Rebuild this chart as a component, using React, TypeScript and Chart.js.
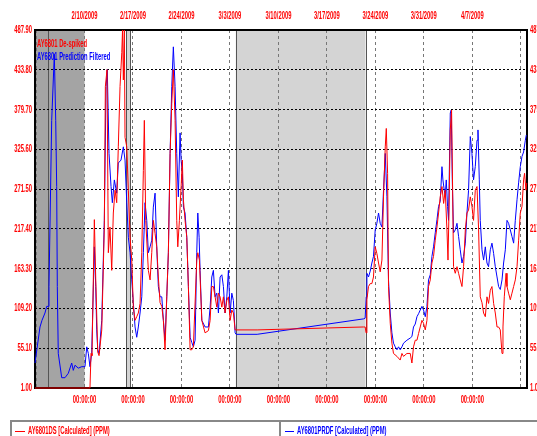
import React, { useEffect, useRef } from 'react';
import { Chart, registerables } from 'chart.js';

Chart.register(...registerables);

// ---- axis / label data ----
const yTicks = [1.0, 55.1, 109.2, 163.3, 217.4, 271.5, 325.6, 379.7, 433.8, 487.9];
const weekDays = [-7, 0, 7, 14, 21, 28, 35, 42, 49, 56, 63];
const dateLabels = ['', '2/10/2009', '2/17/2009', '2/24/2009', '3/3/2009', '3/10/2009', '3/17/2009', '3/24/2009', '3/31/2009', '4/7/2009', ''];
const timeLabels = ['', '00:00:00', '00:00:00', '00:00:00', '00:00:00', '00:00:00', '00:00:00', '00:00:00', '00:00:00', '00:00:00', ''];
const xMin = -7.15;
const xMax = 63.9;
const yMin = 1.0;
const yMax = 487.9;

// shaded periods (days from 2/10/2009)
const darkBands = [[-7.15, 0]];
const lightBands = [[6.0, 6.58], [21.85, 40.58]];
const markerLines = [-5.23, 6.0, 6.58, 21.85, 40.58];

const seriesNames = ['AY6801 De-spiked', 'AY6801 Prediction Filtered'];
const legendNames = ['AY6801DS [Calculated] (PPM)', 'AY6801PRDF [Calculated] (PPM)'];

// ---- series: [day offset from 2/10/2009, PPM] ----
const redSeries = [
  [-7.15, 1], [0.79, 1], [0.94, 48], [1.08, 45], [1.42, 230], [1.62, 150], [1.91, 50], [2.10, 45],
  [2.49, 80], [2.86, 220], [3.01, 411], [3.25, 434], [3.44, 185], [3.68, 220], [3.93, 161], [4.16, 239],
  [4.41, 270], [4.65, 253], [4.88, 329], [5.13, 411], [5.38, 457], [5.49, 487.9], [5.61, 420], [5.75, 487.9],
  [5.85, 342], [6.10, 329], [6.33, 270], [6.58, 206], [6.82, 175], [7.05, 111], [7.30, 93], [7.54, 98],
  [7.77, 103], [8.02, 116], [8.27, 185], [8.50, 297], [8.64, 365], [8.84, 229], [9.22, 161], [9.47, 148],
  [9.71, 185], [9.94, 229], [10.19, 211], [10.43, 193], [10.66, 152], [10.91, 117], [11.16, 112], [11.39, 93],
  [11.63, 53], [11.88, 125], [12.11, 185], [12.36, 320], [12.60, 388], [12.83, 434], [13.08, 365], [13.32, 229],
  [13.47, 193], [13.70, 229], [13.95, 275], [14.13, 311], [14.28, 257], [14.52, 229], [14.77, 206], [15.00, 139],
  [15.25, 53], [15.49, 53], [15.72, 57], [16.21, 175], [16.36, 185], [16.59, 175], [16.94, 93], [17.41, 76],
  [17.89, 79], [18.14, 93], [18.38, 139], [18.61, 139], [18.86, 125], [19.10, 111], [19.34, 130], [19.58, 125],
  [19.83, 111], [20.06, 125], [20.30, 103], [20.55, 120], [20.78, 125], [21.03, 93], [21.27, 107], [21.50, 103],
  [21.75, 80], [21.89, 80], [24.93, 80], [40.29, 84], [40.53, 84], [40.66, 76], [40.78, 121], [41.01, 139],
  [41.26, 143], [41.50, 143], [41.73, 152], [41.98, 193], [42.22, 184], [42.46, 171], [42.70, 159], [42.95, 175],
  [43.18, 261], [43.43, 329], [43.58, 354], [43.77, 293], [43.90, 139], [44.15, 89], [44.39, 62], [44.62, 48],
  [45.12, 44], [45.59, 39], [45.84, 48], [46.07, 44], [46.56, 48], [47.04, 48], [47.28, 35], [47.51, 57],
  [47.76, 66], [48.01, 66], [48.24, 75], [48.48, 84], [48.73, 93], [48.96, 89], [49.21, 80], [49.45, 93],
  [49.68, 139], [49.93, 148], [50.17, 171], [50.40, 180], [50.65, 202], [50.90, 220], [51.13, 239], [51.37, 261],
  [51.62, 275], [51.86, 252], [52.09, 270], [52.34, 216], [52.49, 175], [52.63, 239], [52.82, 352], [53.01, 379],
  [53.16, 270], [53.29, 166], [53.54, 157], [53.79, 166], [54.02, 157], [54.26, 148], [54.51, 139], [54.74, 166],
  [54.99, 216], [55.23, 239], [55.46, 243], [55.71, 261], [55.95, 248], [56.18, 229], [56.43, 270], [56.68, 275],
  [56.91, 216], [57.15, 125], [57.40, 117], [57.63, 103], [57.88, 98], [58.12, 125], [58.35, 116], [58.60, 134],
  [58.84, 139], [59.08, 116], [59.32, 103], [59.57, 84], [59.80, 84], [60.04, 80], [60.29, 48], [60.43, 84],
  [60.62, 125], [60.88, 157], [61.01, 139], [61.24, 130], [61.49, 121], [61.73, 130], [61.97, 139], [62.21, 148],
  [62.46, 166], [62.69, 202], [62.93, 239], [63.18, 248], [63.41, 284], [63.55, 293], [63.75, 270], [63.87, 280],
];

const blueSeries = [
  [-7.15, 35], [-6.43, 84], [-6.14, 93], [-5.71, 103], [-5.46, 112], [-5.23, 112], [-5.13, 139], [-4.74, 365],
  [-4.36, 455], [-4.16, 365], [-4.02, 275], [-3.93, 139], [-3.79, 48], [-3.29, 15], [-2.82, 15], [-2.34, 21],
  [-1.85, 35], [-1.62, 25], [-1.37, 32], [-0.90, 28], [-0.40, 30], [0.07, 30], [0.32, 57], [0.55, 48],
  [0.79, 30], [1.04, 48], [1.42, 193], [1.62, 139], [1.76, 80], [1.91, 53], [2.10, 48], [2.49, 93],
  [2.86, 229], [3.11, 411], [3.29, 434], [3.54, 320], [3.83, 275], [4.02, 253], [4.31, 284], [4.65, 266],
  [4.88, 307], [5.27, 311], [5.61, 329], [5.85, 311], [6.10, 253], [6.33, 206], [6.58, 185], [6.82, 148],
  [7.05, 117], [7.30, 84], [7.54, 70], [7.77, 84], [8.02, 103], [8.27, 125], [8.50, 185], [8.74, 253],
  [8.99, 229], [9.22, 185], [9.47, 193], [9.71, 202], [9.94, 247], [10.19, 266], [10.43, 193], [10.66, 139],
  [10.91, 125], [11.16, 125], [11.39, 93], [11.63, 66], [11.88, 125], [12.11, 185], [12.36, 320], [12.60, 411],
  [12.83, 465], [13.08, 411], [13.32, 320], [13.55, 261], [13.80, 348], [13.95, 311], [14.13, 293], [14.28, 247],
  [14.52, 239], [14.77, 206], [15.00, 139], [15.25, 70], [15.49, 63], [15.72, 57], [15.97, 66], [16.21, 185],
  [16.36, 239], [16.55, 206], [16.69, 161], [16.94, 93], [17.41, 84], [17.89, 84], [18.14, 111], [18.38, 152],
  [18.61, 161], [18.86, 125], [19.10, 130], [19.34, 103], [19.58, 152], [19.83, 155], [20.06, 139], [20.30, 103],
  [20.55, 125], [20.78, 161], [21.03, 103], [21.27, 130], [21.50, 120], [21.75, 76], [21.89, 74], [24.93, 74],
  [40.29, 95], [40.53, 96], [40.68, 125], [40.78, 157], [41.01, 152], [41.26, 160], [41.50, 171], [41.73, 180],
  [41.98, 216], [42.22, 225], [42.46, 239], [42.70, 225], [42.95, 220], [43.18, 270], [43.43, 320], [43.67, 261],
  [43.90, 148], [44.15, 103], [44.39, 76], [44.62, 62], [44.87, 57], [45.12, 53], [45.35, 57], [45.59, 53],
  [45.84, 57], [46.07, 62], [46.56, 66], [47.04, 69], [47.28, 71], [47.51, 84], [47.76, 88], [48.01, 98],
  [48.24, 102], [48.48, 107], [48.73, 112], [48.96, 107], [49.21, 98], [49.45, 112], [49.68, 148], [49.93, 155],
  [50.17, 180], [50.40, 193], [50.65, 212], [50.90, 230], [51.13, 248], [51.37, 255], [51.62, 302], [51.76, 284],
  [51.95, 270], [52.09, 262], [52.24, 284], [52.43, 248], [52.57, 229], [52.82, 375], [52.96, 379], [53.11, 284],
  [53.29, 212], [53.54, 216], [53.79, 225], [54.02, 207], [54.26, 189], [54.51, 171], [54.74, 180], [54.99, 198],
  [55.23, 239], [55.46, 270], [55.71, 343], [55.95, 320], [56.18, 284], [56.43, 302], [56.68, 338], [56.82, 352],
  [57.01, 284], [57.15, 229], [57.40, 189], [57.63, 175], [57.88, 193], [58.12, 171], [58.35, 166], [58.60, 189],
  [58.84, 198], [59.08, 184], [59.32, 166], [59.57, 152], [59.80, 139], [60.04, 135], [60.29, 148], [60.52, 171],
  [60.77, 189], [61.01, 229], [61.24, 225], [61.49, 216], [61.73, 207], [61.97, 198], [62.21, 229], [62.46, 257],
  [62.69, 280], [62.93, 302], [63.18, 316], [63.41, 322], [63.66, 338], [63.80, 345],
];

const RED = '#ff0000';
const BLUE = '#0000ff';
const SQUISH = 0.53;
const FONT_FAMILY = "'Liberation Sans', Arial, sans-serif";
const tickFont = { family: FONT_FAMILY, size: 11, weight: 'bold', lineHeight: 1.2 };

const setWeekTicks = (axis: any) => {
  axis.ticks = weekDays.map((v) => ({ value: v }));
};
const setYTicks = (axis: any) => {
  axis.ticks = yTicks.map((v) => ({ value: v }));
};

const squishText = (ctx: any, text: string, x: number, y: number, color: string) => {
  ctx.save();
  ctx.translate(x, y);
  ctx.scale(SQUISH, 1);
  ctx.fillStyle = color;
  ctx.font = `bold 11px ${FONT_FAMILY}`;
  ctx.textAlign = 'left';
  ctx.textBaseline = 'middle';
  ctx.fillText(text, 0, 0);
  ctx.restore();
};

const decorPlugin = {
  id: 'decor',
  beforeDraw(chart: any) {
    const { ctx, chartArea: a, scales } = chart;
    const x = scales.x;
    // condensed tick labels: scale text horizontally while axes draw
    const proto = Object.getPrototypeOf(ctx);
    ctx.rotate = function (ang: number) {
      proto.rotate.call(this, ang);
      proto.scale.call(this, SQUISH, 1);
    };
    ctx.save();
    ctx.fillStyle = '#a4a4a4';
    darkBands.forEach((b) => {
      const x1 = x.getPixelForValue(b[0]);
      const x2 = x.getPixelForValue(b[1]);
      ctx.fillRect(x1, a.top, x2 - x1, a.bottom - a.top);
    });
    ctx.fillStyle = '#d4d4d4';
    lightBands.forEach((b) => {
      const x1 = x.getPixelForValue(b[0]);
      const x2 = x.getPixelForValue(b[1]);
      ctx.fillRect(x1, a.top, x2 - x1, a.bottom - a.top);
    });
    ctx.strokeStyle = '#555555';
    ctx.lineWidth = 1;
    markerLines.forEach((d) => {
      const px = Math.round(x.getPixelForValue(d)) + 0.5;
      ctx.beginPath();
      ctx.moveTo(px, a.top);
      ctx.lineTo(px, a.bottom);
      ctx.stroke();
    });
    ctx.restore();
  },
  beforeDatasetsDraw(chart: any) {
    const { ctx, chartArea: a } = chart;
    delete ctx.rotate;
    ctx.save();
    ctx.strokeStyle = '#000000';
    ctx.lineWidth = 2;
    ctx.strokeRect(a.left, a.top, a.right - a.left, a.bottom - a.top);
    ctx.restore();
  },
  afterDraw(chart: any) {
    const { ctx, chartArea: a } = chart;
    // legend inside the plot
    squishText(ctx, seriesNames[0], a.left + 2, 43.5, RED);
    squishText(ctx, seriesNames[1], a.left + 2, 57, BLUE);
    // legend box at the bottom
    ctx.save();
    ctx.strokeStyle = '#888888';
    ctx.lineWidth = 2;
    ctx.strokeRect(11, 421, 560, 40);
    ctx.beginPath();
    ctx.moveTo(280, 421);
    ctx.lineTo(280, 440);
    ctx.stroke();
    ctx.lineWidth = 1;
    ctx.strokeStyle = RED;
    ctx.beginPath();
    ctx.moveTo(15, 431.5);
    ctx.lineTo(25, 431.5);
    ctx.stroke();
    ctx.strokeStyle = BLUE;
    ctx.beginPath();
    ctx.moveTo(285, 431.5);
    ctx.lineTo(294, 431.5);
    ctx.stroke();
    ctx.restore();
    squishText(ctx, legendNames[0], 28, 431, RED);
    squishText(ctx, legendNames[1], 297, 431, BLUE);
  },
};

export default function App() {
  const canvasRef = useRef<HTMLCanvasElement | null>(null);

  useEffect(() => {
    const canvas = canvasRef.current;
    if (!canvas) return;
    const chart = new Chart(canvas, {
      type: 'line',
      data: {
        datasets: [
          {
            label: seriesNames[0],
            data: redSeries.map((p) => ({ x: p[0], y: p[1] })),
            borderColor: RED,
            borderWidth: 1,
            pointRadius: 0,
            tension: 0,
            clip: false,
            xAxisID: 'x',
            yAxisID: 'y',
          },
          {
            label: seriesNames[1],
            data: blueSeries.map((p) => ({ x: p[0], y: p[1] })),
            borderColor: BLUE,
            borderWidth: 1,
            pointRadius: 0,
            tension: 0,
            clip: false,
            xAxisID: 'x',
            yAxisID: 'y',
          },
        ],
      },
      options: {
        animation: false,
        responsive: false,
        devicePixelRatio: 1,
        layout: { padding: 0 },
        plugins: { legend: { display: false }, tooltip: { enabled: false } },
        scales: {
          x: {
            type: 'linear',
            position: 'bottom',
            min: xMin,
            max: xMax,
            afterBuildTicks: setWeekTicks,
            afterFit: (s: any) => { s.height = 48; },
            grid: { color: '#777777', lineWidth: 1, drawTicks: false },
            border: { display: false, dash: [3, 3] },
            ticks: {
              autoSkip: false, maxRotation: 0, minRotation: 0, padding: 5,
              color: RED, font: tickFont,
              callback: (v: any) => { const i = weekDays.indexOf(Number(v)); return i >= 0 ? timeLabels[i] : ''; },
            },
          },
          x2: {
            type: 'linear',
            position: 'top',
            min: xMin,
            max: xMax,
            afterBuildTicks: setWeekTicks,
            afterFit: (s: any) => { s.height = 30; },
            grid: { display: false, drawTicks: false },
            border: { display: false },
            ticks: {
              autoSkip: false, maxRotation: 0, minRotation: 0, padding: 7,
              color: RED, font: tickFont,
              callback: (v: any) => { const i = weekDays.indexOf(Number(v)); return i >= 0 ? dateLabels[i] : ''; },
            },
          },
          y: {
            type: 'linear',
            position: 'left',
            min: yMin,
            max: yMax,
            afterBuildTicks: setYTicks,
            afterFit: (s: any) => { s.width = 35; },
            grid: { color: '#000000', lineWidth: 1, drawTicks: false },
            border: { display: false, dash: [2, 2] },
            ticks: {
              padding: 3, color: RED, font: tickFont,
              callback: (v: any) => Number(v).toFixed(2),
            },
          },
          y2: {
            type: 'linear',
            position: 'right',
            min: yMin,
            max: yMax,
            afterBuildTicks: setYTicks,
            afterFit: (s: any) => { s.width = 10; },
            grid: { display: false, drawTicks: false },
            border: { display: false },
            ticks: {
              padding: 3, color: RED, font: tickFont,
              callback: (v: any) => Number(v).toFixed(2),
            },
          },
        },
      },
      plugins: [decorPlugin],
    } as any);
    return () => chart.destroy();
  }, []);

  return (
    <div style={{ position: 'fixed', left: 0, top: 0, width: 537, height: 436, background: '#ffffff' }}>
      <canvas ref={canvasRef} width={537} height={436} style={{ display: 'block' }} />
    </div>
  );
}
